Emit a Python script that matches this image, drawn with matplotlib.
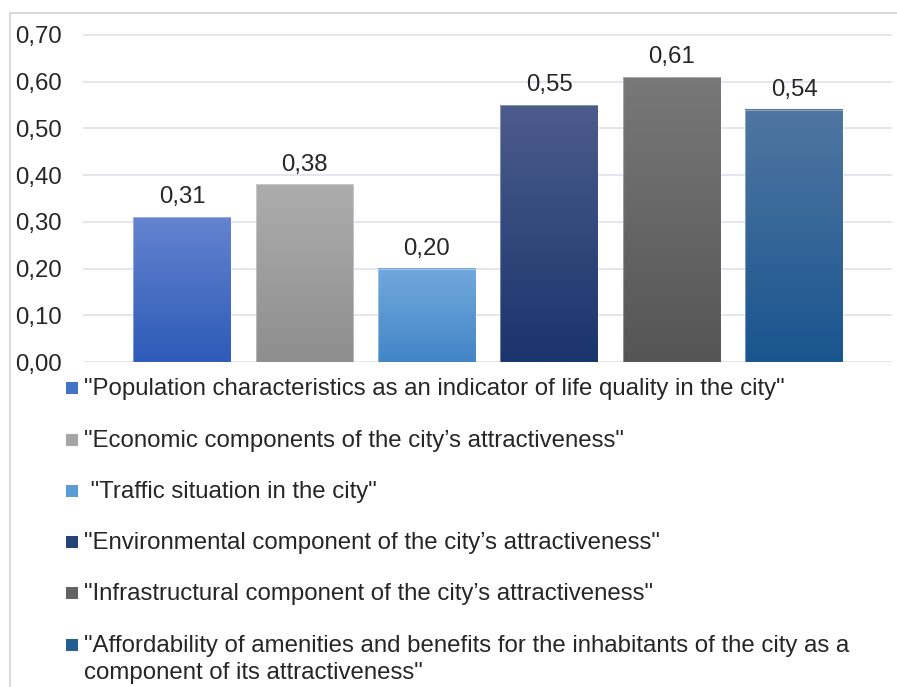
import matplotlib
matplotlib.use("Agg")
import matplotlib.pyplot as plt
import numpy as np
from matplotlib.colors import LinearSegmentedColormap
from matplotlib.patches import Rectangle
from matplotlib.lines import Line2D

# Series values (one bar per component)
labels = [
    '"Population characteristics as an indicator of life quality in the city"',
    '"Economic components of the city\u2019s attractiveness"',
    ' "Traffic situation in the city"',
    '"Environmental component of the city\u2019s attractiveness"',
    '"Infrastructural component of the city\u2019s attractiveness"',
    '"Affordability of amenities and benefits for the inhabitants of the city as a\n'
    'component of its attractiveness"',
]
values = [0.31, 0.38, 0.20, 0.55, 0.61, 0.54]
value_text = ["0,31", "0,38", "0,20", "0,55", "0,61", "0,54"]
y_ticks = [0.0, 0.1, 0.2, 0.3, 0.4, 0.5, 0.6, 0.7]
y_tick_labels = ["0,00", "0,10", "0,20", "0,30", "0,40", "0,50", "0,60", "0,70"]

# Gradient fill (top colour, bottom colour) and legend swatch colour per bar
top_colors = ["#6483cf", "#adadad", "#72a8dd", "#4c5c8b", "#787878", "#5076a1"]
bottom_colors = ["#2d5bb7", "#8e8e8e", "#4286c7", "#1a346d", "#555555", "#19558f"]
swatch_colors = ["#4472c4", "#a5a5a5", "#5b9bd5", "#264478", "#636363", "#255e91"]

plt.rcParams["font.family"] = ["Liberation Sans", "DejaVu Sans"]
FS = 17.3
TXT = "#262626"

W, H = 897, 687
fig = plt.figure(figsize=(W / 100, H / 100), dpi=100)

def fx(px):
    return px / W

def fy(py):
    return 1 - py / H

# Plot area
ax_left, ax_right = 83, 892
ax_bottom_px = 362
ymax = 0.705
px_per_unit = (362 - 35) / 0.70
ax_top_px = ax_bottom_px - ymax * px_per_unit
ax = fig.add_axes([fx(ax_left), fy(ax_bottom_px), fx(ax_right) - fx(ax_left),
                   (ax_bottom_px - ax_top_px) / H])

x = np.arange(len(values))
bar_w = 0.80
ax.set_xlim(-0.81, 5.80)
ax.set_ylim(0, ymax)

bars = ax.bar(x, values, width=bar_w, color="none", edgecolor="none", zorder=3)
grad = np.linspace(1, 0, 256).reshape(-1, 1)
for rect, c_top, c_bot in zip(bars, top_colors, bottom_colors):
    x0, w, h = rect.get_x(), rect.get_width(), rect.get_height()
    cmap = LinearSegmentedColormap.from_list("g", [c_bot, c_top])
    ax.imshow(grad, extent=[x0, x0 + w, 0, h], aspect="auto", cmap=cmap,
              vmin=0, vmax=1, origin="upper", zorder=3, interpolation="bilinear")
    ax.add_patch(Rectangle((x0, 0), w, h, fill=False, edgecolor="white",
                           linewidth=0.8, alpha=0.35, zorder=4))

ax.set_xlim(-0.81, 5.80)
ax.set_ylim(0, ymax)

for xi, v, t in zip(x, values, value_text):
    ax.annotate(t, (xi, v), xytext=(0, 10), textcoords="offset points",
                ha="center", va="baseline", fontsize=FS, color=TXT, zorder=5)

ax.set_yticks(y_ticks)
ax.set_yticklabels(y_tick_labels, fontsize=FS, color=TXT)
ax.set_xticks([])
ax.tick_params(axis="y", length=0, pad=15)
ax.grid(axis="y", color="#e1e5ec", linewidth=1.3, zorder=0)
ax.set_axisbelow(True)
for s in ax.spines.values():
    s.set_visible(False)

# Legend: one row per series below the plot area
row_y = [388, 440, 491, 542, 593, 645]
line_step = 27
for lab, col, ry in zip(labels, swatch_colors, row_y):
    fig.patches.append(Rectangle((fx(66), fy(ry + 6)), fx(12), 12 / H,
                                 transform=fig.transFigure, facecolor=col,
                                 edgecolor="none"))
    for j, line in enumerate(lab.split("\n")):
        fig.text(fx(84), fy(ry + 7 + j * line_step), line, fontsize=FS,
                 color=TXT, ha="left", va="baseline")

# Outer chart frame (top and left edges)
frame = "#d9d9d9"
fig.lines.append(Line2D([fx(10), fx(897)], [fy(12.5), fy(12.5)],
                        transform=fig.transFigure, color=frame, linewidth=1.5))
fig.lines.append(Line2D([fx(10), fx(10)], [fy(12.5), fy(687)],
                        transform=fig.transFigure, color=frame, linewidth=1.5))

fig.savefig("out.png", dpi=100, facecolor="white")
